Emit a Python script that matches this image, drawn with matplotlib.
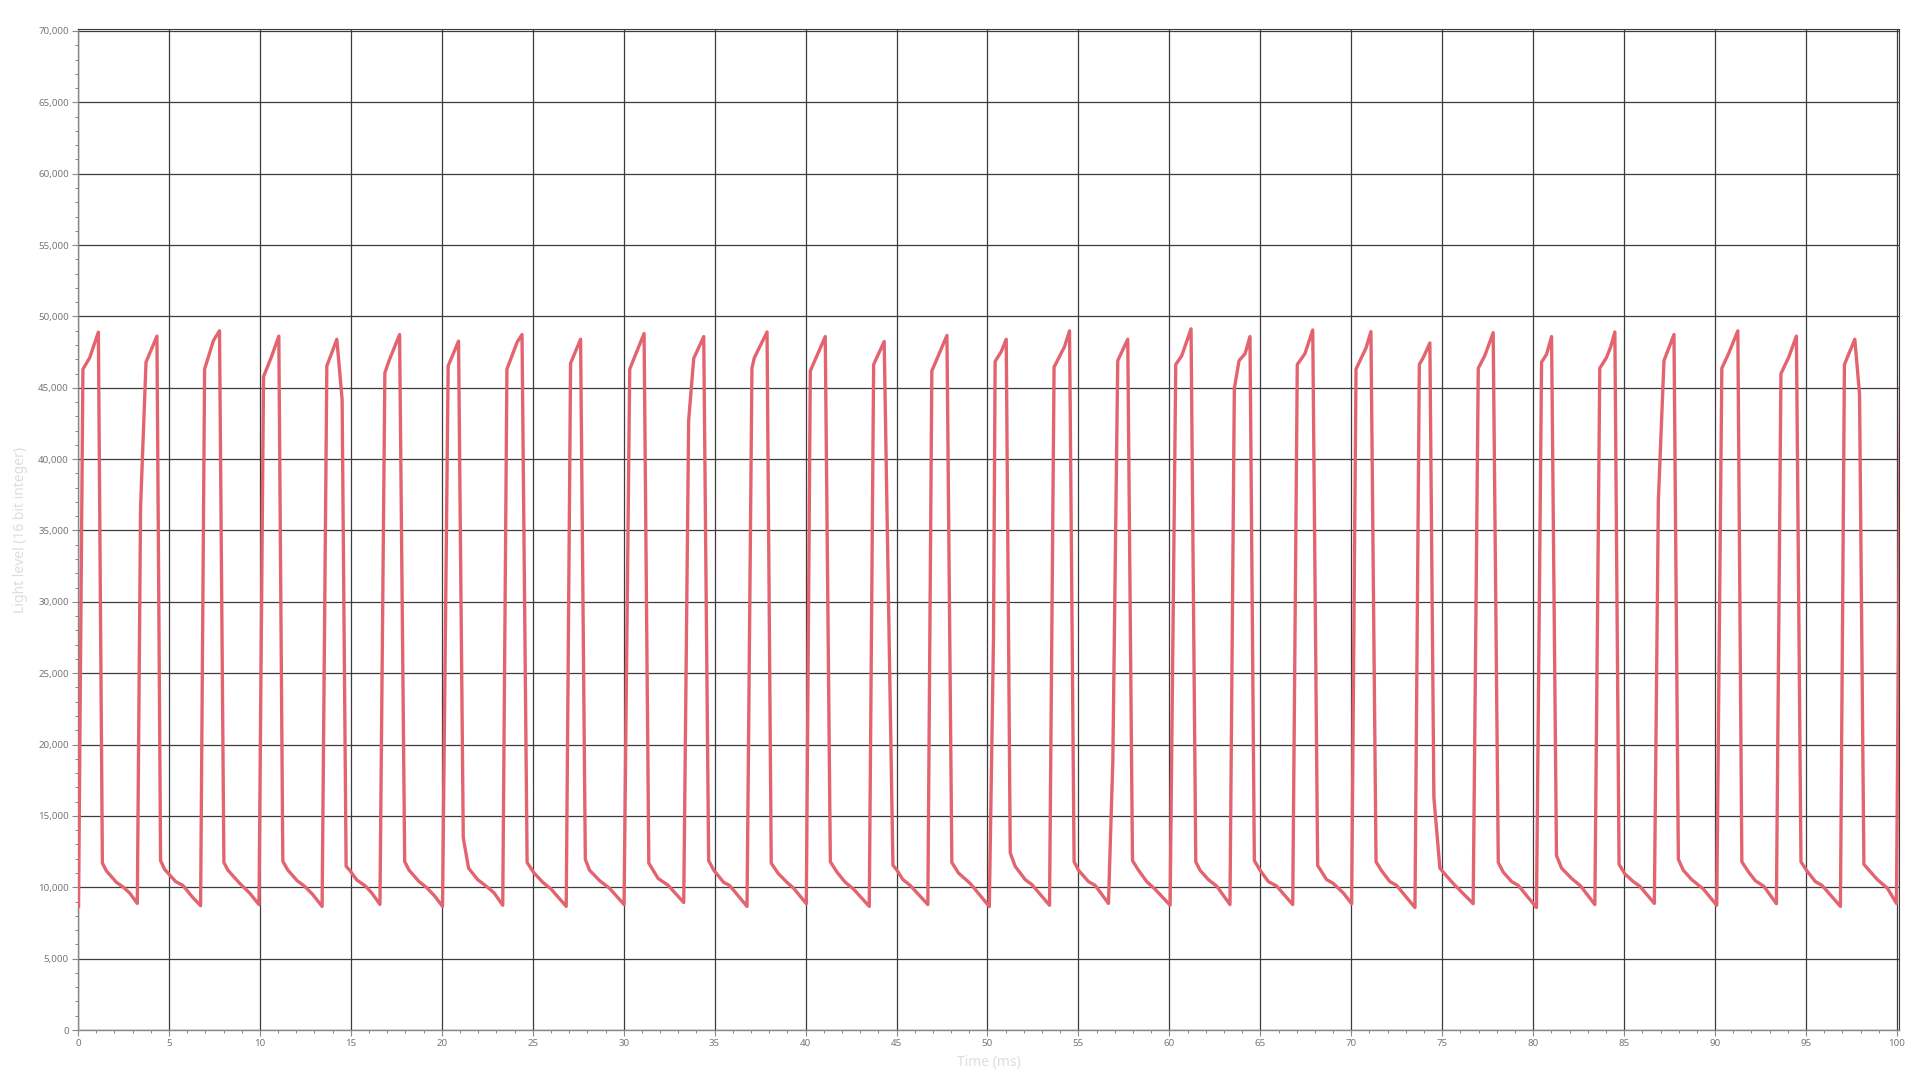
import matplotlib
matplotlib.use("Agg")
import matplotlib.pyplot as plt
from matplotlib.ticker import MultipleLocator, FuncFormatter

plt.rcParams['font.family'] = ['Noto Sans', 'DejaVu Sans']

# ---- data: time (ms) and light level (16-bit integer), read cycle by cycle ----
time_ms = [
    0.03, 0.27, 0.64, 1.12, 1.34, 1.56, 2.11, 2.47, 2.84, 3.26,
    3.44, 3.74, 4.34, 4.54, 4.76, 5.37, 5.77, 6.28, 6.74,
    6.96, 7.45, 7.78, 8.02, 8.24, 8.88, 9.43, 9.95,
    10.20, 10.62, 11.04, 11.26, 11.54, 12.05, 12.45, 12.90, 13.42,
    13.68, 14.23, 14.52, 14.74, 14.93, 15.33, 15.81, 16.15, 16.60,
    16.87, 17.10, 17.68, 17.96, 18.20, 18.75, 19.15, 19.60, 20.04,
    20.35, 20.92, 21.18, 21.47, 21.97, 22.52, 22.88, 23.35,
    23.58, 24.14, 24.41, 24.69, 25.06, 25.55, 26.01, 26.84,
    27.08, 27.30, 27.63, 27.89, 28.12, 28.68, 29.23, 30.02,
    30.33, 31.12, 31.38, 31.89, 32.45, 33.30,
    33.57, 33.85, 34.40, 34.67, 34.95, 35.49, 35.82, 36.78,
    37.05, 37.18, 37.88, 38.11, 38.48, 38.97, 39.34, 40.04,
    40.26, 41.08, 41.36, 41.72, 42.18, 42.64, 43.50,
    43.74, 44.32, 44.80, 45.02, 45.35, 45.75, 46.72,
    46.94, 47.77, 48.04, 48.41, 49.05, 50.10,
    50.33, 50.42, 50.75, 51.03, 51.25, 51.52, 52.07, 52.44, 53.41,
    53.66, 54.23, 54.51, 54.76, 55.00, 55.55, 55.92, 56.65,
    56.89, 57.16, 57.71, 57.97, 58.30, 58.75, 59.21, 60.04,
    60.35, 60.68, 61.19, 61.45, 61.68, 62.14, 62.60, 63.33,
    63.57, 63.83, 64.16, 64.43, 64.67, 64.98, 65.44, 65.90, 66.78,
    67.03, 67.45, 67.88, 68.15, 68.64, 69.01, 69.56, 70.02,
    70.26, 70.81, 71.08, 71.36, 71.67, 72.12, 72.49, 73.50,
    73.74, 73.96, 74.32, 74.54, 74.87, 75.23, 75.60, 76.70,
    76.98, 77.34, 77.80, 78.08, 78.35, 78.81, 79.18, 80.18,
    80.46, 80.73, 81.01, 81.28, 81.56, 82.11, 82.60, 83.39,
    83.66, 84.03, 84.26, 84.49, 84.72, 85.04, 85.50, 85.86, 86.66,
    86.88, 87.19, 87.74, 87.98, 88.25, 88.71, 89.36, 90.09,
    90.37, 90.74, 91.25, 91.47, 91.84, 92.21, 92.67, 93.37,
    93.62, 94.04, 94.47, 94.72, 95.02, 95.51, 95.88, 96.89,
    97.11, 97.68, 97.94, 98.18, 98.46, 98.92, 99.47, 99.97,
    100.20,
]
light_level = [
    8650, 46300, 47100, 48900, 11700, 11150, 10350, 10030, 9600, 8870,
    36660, 46800, 48620, 11870, 11260, 10400, 10130, 9330, 8710,
    46310, 48320, 48990, 11740, 11200, 10290, 9600, 8790,
    45780, 47120, 48620, 11820, 11200, 10460, 10080, 9500, 8660,
    46530, 48400, 44170, 11470, 11200, 10510, 10080, 9600, 8800,
    46050, 46900, 48730, 11795, 11200, 10400, 10000, 9400, 8660,
    46530, 48270, 13480, 11340, 10540, 10000, 9600, 8740,
    46310, 48190, 48730, 11740, 11020, 10350, 9870, 8660,
    46720, 47390, 48400, 11960, 11200, 10460, 9920, 8790,
    46310, 48800, 11690, 10620, 10130, 8930,
    42700, 47060, 48590, 11870, 11200, 10350, 10130, 8660,
    46370, 47100, 48910, 11690, 10990, 10350, 9940, 8850,
    46180, 48590, 11790, 11070, 10350, 9870, 8660,
    46630, 48240, 11550, 11200, 10540, 10130, 8790,
    46180, 48670, 11740, 10990, 10270, 8650,
    27550, 46850, 47520, 48400, 12410, 11470, 10540, 10190, 8740,
    46450, 47870, 48990, 11790, 11200, 10400, 10130, 8870,
    18840, 46900, 48400, 11870, 11200, 10400, 9870, 8740,
    46630, 47250, 49130, 11790, 11200, 10540, 10080, 8790,
    44970, 46900, 47390, 48590, 11870, 11200, 10400, 10080, 8790,
    46630, 47390, 49050, 11530, 10540, 10270, 9600, 8850,
    46310, 47790, 48940, 11790, 11150, 10400, 10130, 8580,
    46630, 47120, 48140, 16300, 11340, 10800, 10270, 8850,
    46370, 47250, 48860, 11740, 11070, 10400, 10130, 8580,
    46800, 47330, 48590, 12220, 11340, 10620, 10100, 8790,
    46370, 47120, 47870, 48910, 11610, 10940, 10400, 10080, 8870,
    37070, 46900, 48730, 11960, 11200, 10540, 9870, 8740,
    46370, 47390, 48990, 11790, 11070, 10460, 10080, 8850,
    45990, 47120, 48620, 11790, 11200, 10400, 10130, 8660,
    46630, 48400, 44570, 11610, 11200, 10540, 9940, 8870,
    46500,
]

x_label = "Time (ms)"
y_label = "Light level (16 bit integer)"

fig = plt.figure(figsize=(19.2, 10.8), dpi=100)
ax = fig.add_axes([78 / 1920, 1 - 1030 / 1080, (1899 - 78) / 1920, (1030 - 29) / 1080])

ax.plot(time_ms, light_level, color='#e3646f', linewidth=2.4, solid_joinstyle='round', zorder=3)

ax.set_xlim(0, 100.11)
ax.set_ylim(0, 70140)

ax.xaxis.set_major_locator(MultipleLocator(5))
ax.xaxis.set_minor_locator(MultipleLocator(1))
ax.yaxis.set_major_locator(MultipleLocator(5000))
ax.yaxis.set_minor_locator(MultipleLocator(1000))
ax.yaxis.set_major_formatter(FuncFormatter(lambda v, p: f"{int(v):,}"))
ax.xaxis.set_major_formatter(FuncFormatter(lambda v, p: f"{int(v)}"))

ax.grid(True, which='major', color='#3c3c3c', linewidth=0.9, zorder=1)
ax.set_axisbelow(True)

ax.tick_params(axis='both', which='major', direction='out', length=4.5, width=0.8,
               color='#888888', labelcolor='#777777', labelsize=7, pad=2)
ax.tick_params(axis='both', which='minor', direction='out', length=2.2, width=0.7,
               color='#888888')

for side in ('left', 'bottom'):
    ax.spines[side].set_color('#888888')
    ax.spines[side].set_linewidth(1.0)
for side in ('top', 'right'):
    ax.spines[side].set_color('#3c3c3c')
    ax.spines[side].set_linewidth(0.8)

ax.set_xlabel(x_label, color='#dddddd', fontsize=10, labelpad=5)
ax.set_ylabel(y_label, color='#dddddd', fontsize=10, labelpad=7)

fig.savefig("out.png", dpi=100)
